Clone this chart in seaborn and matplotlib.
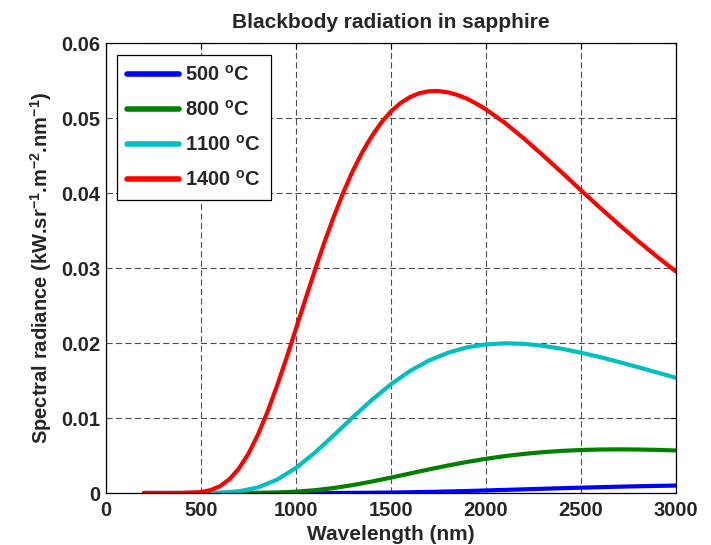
import numpy as np
import pandas as pd
import seaborn as sns
import matplotlib
matplotlib.use('Agg')
import matplotlib.pyplot as plt
from matplotlib.ticker import MultipleLocator, FuncFormatter

# wavelength grid (nm) and spectral radiance (kW.sr-1.m-2.nm-1)
wavelength = [200, 300, 400, 500, 600, 700, 800, 900, 1000, 1100, 1200, 1300, 1400, 1500,
              1600, 1700, 1800, 1900, 2000, 2100, 2200, 2300, 2400, 2500, 2600, 2700,
              2800, 2900, 3000]

rad_500 = [0, 0, 0, 0, 0, 0, 0, 0, 0.000001, 0.0000033, 0.0000088, 0.0000194, 0.0000373,
           0.000064, 0.0001007, 0.0001474, 0.0002035, 0.0002678, 0.0003381, 0.0004127,
           0.0004893, 0.0005658, 0.0006413, 0.0007131, 0.0007804, 0.0008424, 0.0008988,
           0.000949, 0.000993]
rad_800 = [0, 0, 0, 0, 0.0000003, 0.0000034, 0.0000191, 0.0000683, 0.000179, 0.000376,
           0.000672, 0.001063, 0.001533, 0.002058, 0.002604, 0.003149, 0.003671, 0.004147,
           0.004566, 0.004927, 0.00522, 0.005453, 0.005624, 0.00574, 0.005806, 0.005827,
           0.005806, 0.005755, 0.005677]
rad_1100 = [0, 0, 0, 0.000003, 0.0000398, 0.000223, 0.000744, 0.001771, 0.003349, 0.005393,
            0.00772, 0.01013, 0.01244, 0.01452, 0.01628, 0.01769, 0.01872, 0.01944, 0.01984,
            0.01998, 0.01991, 0.01964, 0.01924, 0.01873, 0.01814, 0.01748, 0.0168, 0.01609,
            0.01537]

# the 1400 C curve bends sharply, so it is read on a finer grid
wavelength_1400 = [200, 300, 400, 500, 550, 600, 650, 700, 750, 800, 850, 900, 950, 1000,
                   1050, 1100, 1150, 1200, 1250, 1300, 1350, 1400, 1450, 1500, 1550, 1600,
                   1650, 1700, 1750, 1800, 1850, 1900, 1950, 2000, 2100, 2200, 2300, 2400,
                   2500, 2600, 2700, 2800, 2900, 3000]
rad_1400 = [0, 0, 0.0000054, 0.000129, 0.000383, 0.00091, 0.001842, 0.00327, 0.005255,
            0.0078, 0.01083, 0.01427, 0.01802, 0.02193, 0.02588, 0.02977, 0.03349, 0.03696,
            0.04017, 0.04305, 0.04554, 0.04767, 0.04948, 0.05094, 0.05204, 0.05285, 0.05337,
            0.05363, 0.05366, 0.05347, 0.05313, 0.05263, 0.05196, 0.0512, 0.04939, 0.04731,
            0.04507, 0.04276, 0.0404, 0.03808, 0.03582, 0.03364, 0.03155, 0.02956]

labels = [r'500 $^{o}$C', r'800 $^{o}$C', r'1100 $^{o}$C', r'1400 $^{o}$C']
colors = ['#0000ff', '#008000', '#00bfbf', '#ff0000']

frames = []
for lab, xs, vals in zip(labels, [wavelength, wavelength, wavelength, wavelength_1400],
                         [rad_500, rad_800, rad_1100, rad_1400]):
    frames.append(pd.DataFrame({'wavelength': xs, 'radiance': vals, 'series': lab}))
df = pd.concat(frames, ignore_index=True)

sns.set_style('white')
plt.rcParams['font.family'] = ['Liberation Sans', 'DejaVu Sans']
plt.rcParams['font.weight'] = 'bold'
plt.rcParams['mathtext.fontset'] = 'custom'
plt.rcParams['mathtext.rm'] = 'Liberation Sans:bold'
plt.rcParams['mathtext.it'] = 'Liberation Sans:bold'
plt.rcParams['mathtext.bf'] = 'Liberation Sans:bold'

fig = plt.figure(figsize=(7.11, 5.45), dpi=100)
ax = fig.add_axes([0.149, 0.0954, 0.8018, 0.8248])

sns.lineplot(data=df, x='wavelength', y='radiance', hue='series', hue_order=labels,
             palette=colors, linewidth=3, ax=ax, sort=False)

ax.set_xlim(0, 3000)
ax.set_ylim(0, 0.06)
ax.xaxis.set_major_locator(MultipleLocator(500))
ax.yaxis.set_major_locator(MultipleLocator(0.01))
ax.yaxis.set_major_formatter(FuncFormatter(lambda v, p: '%g' % round(v, 3)))

ax.grid(True, color='0.3', linestyle=(0, (5.5, 3)), linewidth=0.8)
for s in ax.spines.values():
    s.set_visible(True)
    s.set_color('black')
    s.set_linewidth(0.9)
ax.tick_params(direction='in', length=4, width=0.8, top=True, right=True,
               labelsize=14.5, color='black')
ax.tick_params(axis='x', pad=6)
ax.tick_params(axis='y', pad=4)
for t in ax.get_xticklabels() + ax.get_yticklabels():
    t.set_fontweight('bold')

ax.set_title('Blackbody radiation in sapphire', fontsize=15, fontweight='bold', pad=11)
ax.set_xlabel('Wavelength (nm)', fontsize=15, fontweight='bold', labelpad=3)
ax.set_ylabel(r'Spectral radiance (kW.sr$^{-1}$.m$^{-2}$.nm$^{-1}$)', fontsize=14.5,
              fontweight='bold', labelpad=5)

leg = ax.legend(loc='upper left', fontsize=14.5, handlelength=2.6, handletextpad=0.3,
                labelspacing=0.75, borderaxespad=0.55, borderpad=0.5, fancybox=False,
                framealpha=1, edgecolor='black')
leg.get_frame().set_linewidth(0.9)
for line in leg.get_lines():
    line.set_linewidth(4)

fig.savefig('out.png', dpi=100)
